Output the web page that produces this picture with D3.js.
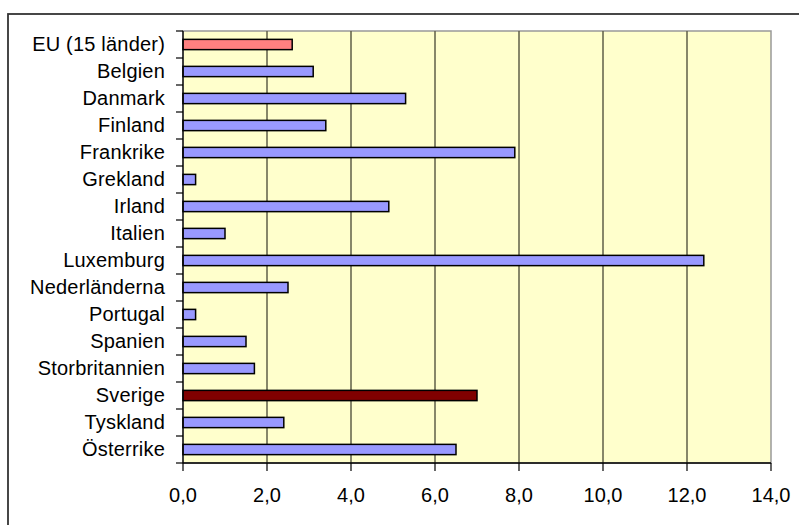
<!DOCTYPE html>
<html>
<head>
<meta charset="utf-8">
<script src="https://cdn.jsdelivr.net/npm/d3@7"></script>
<style>
  html, body { margin: 0; padding: 0; background: #fff; }
  svg { display: block; }
  text { font-family: "Liberation Sans", Arial, sans-serif; fill: #000; }
</style>
</head>
<body>
<svg id="chart" width="799" height="525"></svg>
<script>
// Countries (top to bottom) and their values
const countries = [
  "EU (15 länder)", "Belgien", "Danmark", "Finland", "Frankrike", "Grekland",
  "Irland", "Italien", "Luxemburg", "Nederländerna", "Portugal", "Spanien",
  "Storbritannien", "Sverige", "Tyskland", "Österrike"
];
const values = [2.6, 3.1, 5.3, 3.4, 7.9, 0.3, 4.9, 1.0, 12.4, 2.5, 0.3, 1.5, 1.7, 7.0, 2.4, 6.5];
const xTicks = [0, 2, 4, 6, 8, 10, 12, 14];

const highlightEU = "EU (15 länder)";
const highlightSE = "Sverige";

const svg = d3.select("#chart");

// Outer chart frame
svg.append("rect")
  .attr("x", 8).attr("y", 14)
  .attr("width", 820).attr("height", 540)
  .attr("fill", "#fff")
  .attr("stroke", "#333").attr("stroke-width", 1.8);

const plot = { left: 183, right: 771, top: 31, bottom: 463 };

const x = d3.scaleLinear().domain([0, 14]).range([plot.left, plot.right]);
const y = d3.scaleBand().domain(countries)
  .range([plot.top, plot.bottom])
  .paddingInner(0.62).paddingOuter(0.31);

// Plot background
svg.append("rect")
  .attr("x", plot.left).attr("y", plot.top)
  .attr("width", plot.right - plot.left).attr("height", plot.bottom - plot.top)
  .attr("fill", "#FFFFCC")
  .attr("stroke", "#999").attr("stroke-width", 1.5);

// Vertical gridlines
svg.append("g").selectAll("line")
  .data(xTicks.filter(d => d > 0 && d < 14))
  .join("line")
  .attr("x1", d => x(d)).attr("x2", d => x(d))
  .attr("y1", plot.top).attr("y2", plot.bottom)
  .attr("stroke", "#5f5f48").attr("stroke-width", 1.5);

// Bars
svg.append("g").selectAll("rect")
  .data(countries.map((c, i) => ({ c, v: values[i] })))
  .join("rect")
  .attr("x", x(0))
  .attr("y", d => y(d.c))
  .attr("width", d => x(d.v) - x(0))
  .attr("height", y.bandwidth())
  .attr("fill", d => d.c === highlightEU ? "#FF8080" : d.c === highlightSE ? "#800000" : "#9999FF")
  .attr("stroke", "#000").attr("stroke-width", 1.5);

// Axis lines
svg.append("line")
  .attr("x1", plot.left).attr("x2", plot.left)
  .attr("y1", plot.top).attr("y2", plot.bottom)
  .attr("stroke", "#000").attr("stroke-width", 1.3);
svg.append("line")
  .attr("x1", plot.left).attr("x2", plot.right)
  .attr("y1", plot.bottom).attr("y2", plot.bottom)
  .attr("stroke", "#000").attr("stroke-width", 1.3);

// Category tick marks at band boundaries
const step = y.step();
const boundaries = d3.range(countries.length + 1).map(i => plot.top + i * step);
svg.append("g").selectAll("line")
  .data(boundaries)
  .join("line")
  .attr("x1", plot.left - 7).attr("x2", plot.left)
  .attr("y1", d => d).attr("y2", d => d)
  .attr("stroke", "#000").attr("stroke-width", 1.2);

// Category labels
svg.append("g").selectAll("text")
  .data(countries)
  .join("text")
  .attr("x", 165)
  .attr("y", d => y(d) + y.bandwidth() / 2 + 6)
  .attr("text-anchor", "end")
  .attr("font-size", 20)
  .attr("letter-spacing", 0.2)
  .text(d => d);

// Value axis ticks and labels
const loc = d3.formatLocale({ decimal: ",", thousands: " ", grouping: [3], currency: ["", ""] });
const fmt = loc.format(".1f");

svg.append("g").selectAll("line")
  .data(xTicks)
  .join("line")
  .attr("x1", d => x(d)).attr("x2", d => x(d))
  .attr("y1", plot.bottom).attr("y2", plot.bottom + 8)
  .attr("stroke", "#000").attr("stroke-width", 1.2);

svg.append("g").selectAll("text")
  .data(xTicks)
  .join("text")
  .attr("x", d => x(d))
  .attr("y", 502)
  .attr("text-anchor", "middle")
  .attr("font-size", 20)
  .text(d => fmt(d));
</script>
</body>
</html>
